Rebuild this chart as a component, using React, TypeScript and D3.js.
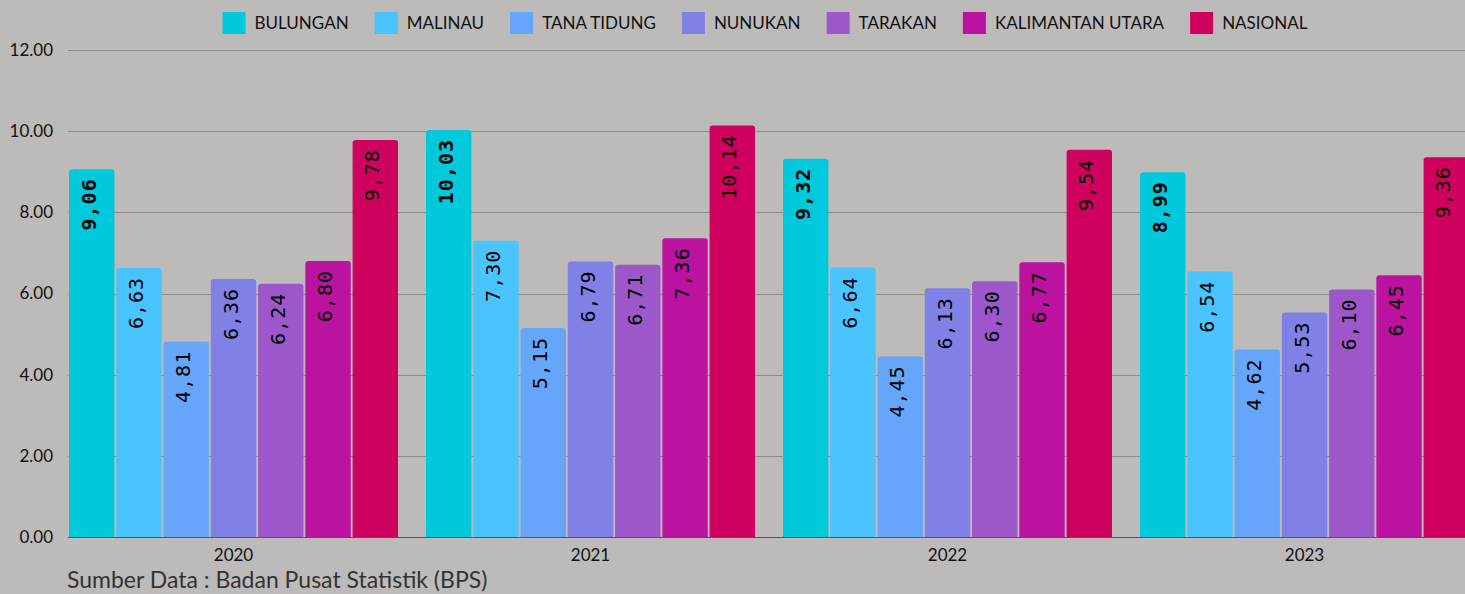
import { useEffect, useRef } from 'react';
import * as d3 from 'd3';

const years = ['2020', '2021', '2022', '2023'];
const series = ['BULUNGAN', 'MALINAU', 'TANA TIDUNG', 'NUNUKAN', 'TARAKAN', 'KALIMANTAN UTARA', 'NASIONAL'];
const colors = ['#00c9dc', '#4ac4fe', '#66a6fa', '#8080e6', '#9c58cb', '#bc12a0', '#d0005e'];

const bulungan = [9.06, 10.03, 9.32, 8.99];
const malinau = [6.63, 7.3, 6.64, 6.54];
const tanaTidung = [4.81, 5.15, 4.45, 4.62];
const nunukan = [6.36, 6.79, 6.13, 5.53];
const tarakan = [6.24, 6.71, 6.3, 6.1];
const kaltara = [6.8, 7.36, 6.77, 6.45];
const nasional = [9.78, 10.14, 9.54, 9.36];

const yTicks = [0, 2, 4, 6, 8, 10, 12];

const W = 1465;
const H = 594;

export default function App() {
  const svgRef = useRef<SVGSVGElement>(null);

  useEffect(() => {
    if (!svgRef.current) return;
    const svg = d3.select(svgRef.current);
    svg.selectAll('*').remove();

    const values = [bulungan, malinau, tanaTidung, nunukan, tarakan, kaltara, nasional];
    const plotLeft = 68;
    const yScale = d3.scaleLinear().domain([0, 12]).range([537, 50]);

    const x0 = d3.scaleBand<string>()
      .domain(years)
      .range([55, 55 + 357 * 4])
      .paddingInner(28 / 357)
      .paddingOuter(14 / 357);
    const x1 = d3.scaleBand<string>()
      .domain(series)
      .range([0, x0.bandwidth()])
      .paddingInner(0.04);

    svg.append('rect').attr('width', W).attr('height', H).attr('fill', '#bcbbb9');

    // grid
    svg.append('g')
      .selectAll('line')
      .data(yTicks.filter(t => t > 0))
      .enter()
      .append('line')
      .attr('x1', plotLeft)
      .attr('x2', W)
      .attr('y1', d => Math.round(yScale(d)) + 0.5)
      .attr('y2', d => Math.round(yScale(d)) + 0.5)
      .attr('stroke', '#8f8e8c')
      .attr('stroke-width', 1);

    svg.append('line')
      .attr('x1', plotLeft)
      .attr('x2', W)
      .attr('y1', 537.5)
      .attr('y2', 537.5)
      .attr('stroke', '#555')
      .attr('stroke-width', 1);

    // y labels
    svg.append('g')
      .selectAll('text')
      .data(yTicks)
      .enter()
      .append('text')
      .attr('x', 53)
      .attr('y', d => yScale(d))
      .attr('dy', '0.35em')
      .attr('text-anchor', 'end')
      .attr('fill', '#111')
      .style('font-family', 'Lato, sans-serif')
      .style('font-size', '17px')
      .text(d => d.toFixed(2));

    // bars
    const r = 3;
    years.forEach((yr, yi) => {
      const g = svg.append('g').attr('transform', `translate(${x0(yr)},0)`);
      series.forEach((s, si) => {
        const v = values[si][yi];
        const x = x1(s)!;
        const w = x1.bandwidth();
        const top = yScale(v);
        const bottom = yScale(0);
        const p = d3.path();
        p.moveTo(x, bottom);
        p.lineTo(x, top + r);
        p.quadraticCurveTo(x, top, x + r, top);
        p.lineTo(x + w - r, top);
        p.quadraticCurveTo(x + w, top, x + w, top + r);
        p.lineTo(x + w, bottom);
        p.closePath();
        g.append('path').attr('d', p.toString()).attr('fill', colors[si]);

        g.append('text')
          .attr('transform', `translate(${x + w / 2},${top + 9}) rotate(-90)`)
          .attr('text-anchor', 'end')
          .attr('dy', '0.2em')
          .attr('fill', '#000')
          .style('font-family', '"DejaVu Sans Mono", monospace')
          .style('font-size', '20px')
          .style('letter-spacing', '1px')
          .style('font-weight', si === 0 ? 'bold' : 'normal')
          .text(v.toFixed(2).replace('.', ','));
      });

      svg.append('text')
        .attr('x', x0(yr)! + x0.bandwidth() / 2)
        .attr('y', 561)
        .attr('text-anchor', 'middle')
        .attr('fill', '#111')
        .style('font-family', 'Lato, sans-serif')
        .style('font-size', '17px')
        .text(yr);
    });

    // legend
    const legend = svg.append('g');
    let cx = 0;
    series.forEach((s, i) => {
      const item = legend.append('g').attr('transform', `translate(${cx},0)`);
      item.append('rect').attr('x', 0).attr('y', 12).attr('width', 23).attr('height', 22).attr('fill', colors[i]);
      const t = item.append('text')
        .attr('x', 32)
        .attr('y', 29)
        .attr('fill', '#111')
        .style('font-family', 'Lato, sans-serif')
        .style('font-size', '17px')
        .text(s);
      const tw = (t.node() as SVGTextElement).getComputedTextLength();
      cx += 32 + tw + 26;
    });
    const total = cx - 26;
    legend.attr('transform', `translate(${765 - total / 2},0)`);

    svg.append('text')
      .attr('x', 67)
      .attr('y', 588)
      .attr('fill', '#333')
      .style('font-family', 'Lato, sans-serif')
      .style('font-size', '23px')
      .text('Sumber Data : Badan Pusat Statistik (BPS)');
  }, []);

  return (
    <div style={{ position: 'fixed', left: 0, top: 0 }}>
      <svg ref={svgRef} width={W} height={H} style={{ display: 'block' }} />
    </div>
  );
}
